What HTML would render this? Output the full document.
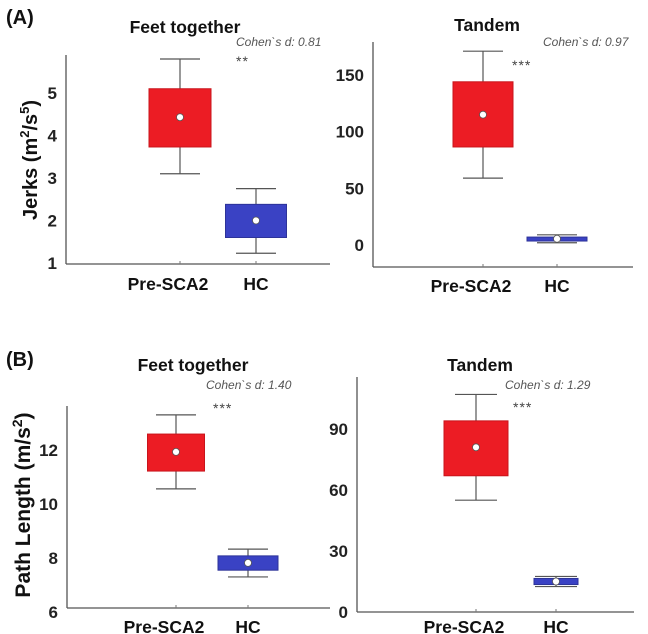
<!DOCTYPE html>
<html><head><meta charset="utf-8"><style>
html,body{margin:0;padding:0;background:#fff;}
svg{display:block;font-family:"Liberation Sans",Arial,sans-serif;}
</style></head><body>
<svg id="c" width="648" height="634" viewBox="0 0 648 634"></svg>
<script>
const categories = ["Pre-SCA2", "HC"];
// each box: [min, q1, mean, q3, max]
const aFeetBoxes = [[3.1, 3.73, 4.43, 5.1, 5.8], [1.23, 1.6, 2.0, 2.38, 2.75]];
const aTandemBoxes = [[59, 86.5, 115, 144, 171], [2, 3.5, 5.5, 7, 9]];
const bFeetBoxes = [[10.56, 11.22, 11.93, 12.59, 13.3], [7.3, 7.55, 7.82, 8.08, 8.33]];
const bTandemBoxes = [[55, 67, 81, 94, 107], [12.5, 13.5, 15, 16.5, 17.5]];
const aFeetTicks = [1, 2, 3, 4, 5];
const aTandemTicks = [0, 50, 100, 150];
const bFeetTicks = [6, 8, 10, 12];
const bTandemTicks = [0, 30, 60, 90];
const cohenLabels = ["Cohen`s d: 0.81", "Cohen`s d: 0.97", "Cohen`s d: 1.40", "Cohen`s d: 1.29"];
const starLabels = ["**", "***", "***", "***"];

const svg = document.getElementById('c');
const NS = 'http://www.w3.org/2000/svg';
function mk(tag, attrs, parent, text) {
  const e = document.createElementNS(NS, tag);
  for (const k in attrs) e.setAttribute(k, attrs[k]);
  if (text !== undefined) e.textContent = text;
  (parent || svg).appendChild(e);
  return e;
}

const panels = [
  {id:'a-feet', boxes:aFeetBoxes, ticks:aFeetTicks, x0:66, x1:330, yTop:55, yBot:264, vLo:1, yLo:263, vHi:5, yHi:93, cx:[180,256], bw:[62,61], capW:40, title:'Feet together', tx:185, ty:33, ci:0, cohX:236, cohY:46, starX:236, starY:66, labY:290},
  {id:'a-tandem', boxes:aTandemBoxes, ticks:aTandemTicks, x0:373, x1:633, yTop:42, yBot:267, vLo:0, yLo:245, vHi:150, yHi:75, cx:[483,557], bw:[60,60], capW:40, title:'Tandem', tx:487, ty:31, ci:1, cohX:543, cohY:46, starX:512, starY:70, labY:292},
  {id:'b-feet', boxes:bFeetBoxes, ticks:bFeetTicks, x0:67, x1:330, yTop:406, yBot:608, vLo:6.15, yLo:608, vHi:12, yHi:450, cx:[176,248], bw:[57,60], capW:40, title:'Feet together', tx:193, ty:371, ci:2, cohX:206, cohY:389, starX:213, starY:413, labY:633},
  {id:'b-tandem', boxes:bTandemBoxes, ticks:bTandemTicks, x0:357, x1:634, yTop:377, yBot:612, vLo:0, yLo:612, vHi:90, yHi:429, cx:[476,556], bw:[64,44], capW:42, title:'Tandem', tx:480, ty:371, ci:3, cohX:505, cohY:389, starX:513, starY:412, labY:633}
];

mk('text', {x:6, y:24, 'font-size':20, 'font-weight':'bold', fill:'#111',  }, svg, '(A)');
mk('text', {x:6, y:366, 'font-size':20, 'font-weight':'bold', fill:'#111',  }, svg, '(B)');

const yl1 = mk('text', {x:0, y:0, 'font-size':20, 'font-weight':'bold', fill:'#111', 'text-anchor':'middle', transform:'translate(37,160) rotate(-90)',  }, svg);
yl1.innerHTML = 'Jerks (m<tspan font-size="13" dy="-8">2</tspan><tspan dy="8">/s</tspan><tspan font-size="13" dy="-8">5</tspan><tspan dy="8">)</tspan>';
const yl2 = mk('text', {x:0, y:0, 'font-size':21, 'font-weight':'bold', fill:'#111', 'text-anchor':'middle', transform:'translate(30,505) rotate(-90)',  }, svg);
yl2.innerHTML = 'Path Length (m/s<tspan font-size="14" dy="-8">2</tspan><tspan dy="8">)</tspan>';

panels.forEach(p => {
  const g = mk('g', { });
  const ys = v => p.yLo + (v - p.vLo) * (p.yHi - p.yLo) / (p.vHi - p.vLo);
  mk('text', {x:p.tx, y:p.ty, 'font-size':17.5, 'font-weight':'bold', fill:'#111', 'text-anchor':'middle',  }, g, p.title);
  mk('line', {x1:p.x0, y1:p.yTop, x2:p.x0, y2:p.yBot, stroke:'#555', 'stroke-width':1.3,  }, g);
  mk('line', {x1:p.x0, y1:p.yBot, x2:p.x1, y2:p.yBot, stroke:'#555', 'stroke-width':1.3,  }, g);
  p.ticks.forEach(t => {
    mk('text', {x:p.x0-9, y:ys(t)+6, 'font-size':17, 'font-weight':'bold', fill:'#222', 'text-anchor':'end',  }, g, String(t));
  });
  categories.forEach((c, i) => {
    const b = p.boxes[i];
    const cx = p.cx[i], w = p.bw[i];
    const col = i === 0 ? '#ec1c24' : '#3a42c4';
    const stroke = i === 0 ? '#c9141b' : '#2d3399';
    mk('line', {x1:cx, y1:p.yBot, x2:cx, y2:p.yBot-3, stroke:'#777',  }, g);
    mk('line', {x1:cx, y1:ys(b[0]), x2:cx, y2:ys(b[4]), stroke:'#555', 'stroke-width':1.2,  }, g);
    mk('line', {x1:cx-p.capW/2, y1:ys(b[4]), x2:cx+p.capW/2, y2:ys(b[4]), stroke:'#555', 'stroke-width':1.2,  }, g);
    mk('line', {x1:cx-p.capW/2, y1:ys(b[0]), x2:cx+p.capW/2, y2:ys(b[0]), stroke:'#555', 'stroke-width':1.2,  }, g);
    const top = ys(b[3]), bot = ys(b[1]);
    mk('rect', {x:cx-w/2, y:top, width:w, height:Math.max(bot-top,2), fill:col, stroke:stroke, 'stroke-width':1,  }, g);
    mk('circle', {cx:cx, cy:ys(b[2]), r:3.5, fill:'#fff', stroke:'#555', 'stroke-width':0.8,  }, g);
    mk('text', {x:cx-(i===0?12:0), y:p.labY, 'font-size':17.5, 'font-weight':'bold', fill:'#111', 'text-anchor':'middle',  }, g, c);
  });
  mk('text', {x:p.cohX, y:p.cohY, 'font-size':12, 'font-style':'italic', fill:'#555',  }, g, cohenLabels[p.ci]);
  mk('text', {x:p.starX, y:p.starY, 'font-size':14, fill:'#444', 'letter-spacing':'1',  }, g, starLabels[p.ci]);
});
</script>
</body></html>
